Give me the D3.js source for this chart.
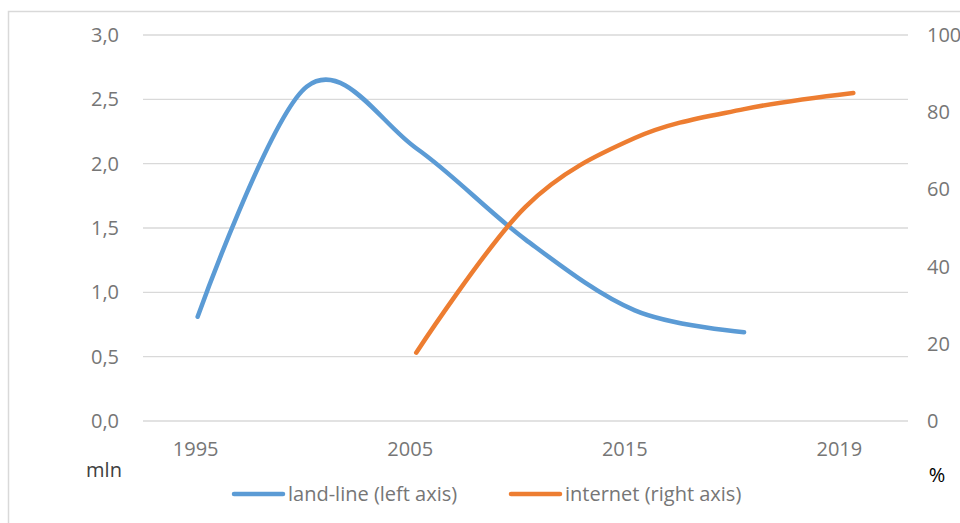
<!DOCTYPE html>
<html>
<head>
<meta charset="utf-8">
<script src="https://cdn.jsdelivr.net/npm/d3@7"></script>
<style>
  body { margin: 0; background: #fff; }
  svg { display: block; font-family: "Open Sans", sans-serif; }
</style>
</head>
<body>
<svg id="chart" width="960" height="523"></svg>
<script>
// categories (every other one labelled, like the original)
var years = ["1995", "2000", "2005", "2010", "2015", "2017", "2019"];
var tickLabels = ["1995", "", "2005", "", "2015", "", "2019"];

// land-line, mln (left axis)
var landLine = [0.81, 2.60, 2.12, 1.41, 0.86, 0.69, null];
// internet, % (right axis)
var internet = [null, null, 17.7, 55.5, 73.3, 80.8, 85.0];

var leftTicks = [0, 0.5, 1, 1.5, 2, 2.5, 3];
var rightTicks = [0, 20, 40, 60, 80, 100];

var plotLeft = 143, plotRight = 908, plotTop = 35, plotBottom = 421;
var fontSize = 20;

var svg = d3.select("#chart");

// outer frame
svg.append("rect")
    .attr("x", 8.5).attr("y", 11.5)
    .attr("width", 1000).attr("height", 1000)
    .attr("fill", "none")
    .attr("stroke", "#d9d9d9")
    .attr("stroke-width", 1.5);

var x = d3.scalePoint()
    .domain(d3.range(years.length))
    .range([plotLeft, plotRight])
    .padding(0.5);

var yLeft = d3.scaleLinear().domain([0, 3]).range([plotBottom, plotTop]);
var yRight = d3.scaleLinear().domain([0, 100]).range([plotBottom, plotTop]);

// gridlines
svg.append("g")
    .selectAll("line")
    .data(leftTicks)
    .enter()
    .append("line")
    .attr("x1", plotLeft)
    .attr("x2", plotRight)
    .attr("y1", function(d) { return yLeft(d); })
    .attr("y2", function(d) { return yLeft(d); })
    .attr("stroke", "#d9d9d9")
    .attr("stroke-width", 1.4);

// left axis labels
svg.append("g")
    .selectAll("text")
    .data(leftTicks)
    .enter()
    .append("text")
    .attr("x", 119)
    .attr("y", function(d) { return yLeft(d); })
    .attr("dy", "0.35em")
    .attr("text-anchor", "end")
    .attr("fill", "#767676")
    .attr("font-size", fontSize)
    .text(function(d) { return d3.format(".1f")(d).replace(".", ","); });

// right axis labels
svg.append("g")
    .selectAll("text")
    .data(rightTicks)
    .enter()
    .append("text")
    .attr("x", 927)
    .attr("y", function(d) { return yRight(d); })
    .attr("dy", "0.35em")
    .attr("fill", "#767676")
    .attr("font-size", fontSize)
    .text(function(d) { return d; });

// x labels sit a bit left of the category centres in the original
var xLabel = d3.scaleLinear()
    .domain([0, years.length - 1])
    .range([x(0) - 2, x(years.length - 1) - 14]);

svg.append("g")
    .selectAll("text")
    .data(tickLabels)
    .enter()
    .append("text")
    .attr("x", function(d, i) { return xLabel(i); })
    .attr("y", 456)
    .attr("text-anchor", "middle")
    .attr("fill", "#767676")
    .attr("font-size", fontSize)
    .text(function(d) { return d; });

// unit labels
svg.append("text")
    .attr("x", 104).attr("y", 477)
    .attr("text-anchor", "middle")
    .attr("fill", "#404040")
    .attr("font-size", fontSize)
    .text("mln");

svg.append("text")
    .attr("x", 937).attr("y", 482)
    .attr("text-anchor", "middle")
    .attr("fill", "#000")
    .attr("font-size", fontSize)
    .text("%");

// lines
var curve = d3.curveCatmullRom.alpha(0);

var landLineGen = d3.line()
    .defined(function(d) { return d != null; })
    .x(function(d, i) { return x(i); })
    .y(function(d) { return yLeft(d); })
    .curve(curve);

var internetGen = d3.line()
    .defined(function(d) { return d != null; })
    .x(function(d, i) { return x(i); })
    .y(function(d) { return yRight(d); })
    .curve(curve);

svg.append("path")
    .datum(landLine)
    .attr("d", landLineGen)
    .attr("fill", "none")
    .attr("stroke", "#5b9bd5")
    .attr("stroke-width", 4.5)
    .attr("stroke-linecap", "round")
    .attr("stroke-linejoin", "round");

svg.append("path")
    .datum(internet)
    .attr("d", internetGen)
    .attr("fill", "none")
    .attr("stroke", "#ed7d31")
    .attr("stroke-width", 4.5)
    .attr("stroke-linecap", "round")
    .attr("stroke-linejoin", "round");

// legend
var legend = [
    { name: "land-line (left axis)", color: "#5b9bd5", x: 234 },
    { name: "internet (right axis)", color: "#ed7d31", x: 511 }
];

var legendG = svg.append("g")
    .selectAll("g")
    .data(legend)
    .enter()
    .append("g");

legendG.append("line")
    .attr("x1", function(d) { return d.x; })
    .attr("x2", function(d) { return d.x + 49; })
    .attr("y1", 494)
    .attr("y2", 494)
    .attr("stroke", function(d) { return d.color; })
    .attr("stroke-width", 4.5)
    .attr("stroke-linecap", "round");

legendG.append("text")
    .attr("x", function(d) { return d.x + 54; })
    .attr("y", 494)
    .attr("dy", "0.35em")
    .attr("fill", "#767676")
    .attr("font-size", fontSize)
    .text(function(d) { return d.name; });
</script>
</body>
</html>
